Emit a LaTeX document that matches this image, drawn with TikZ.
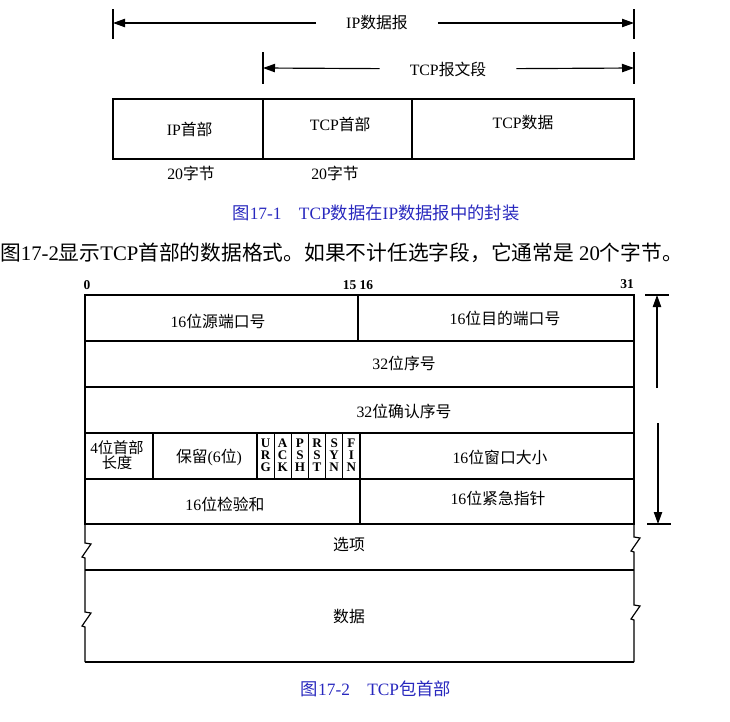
\documentclass[tikz,border=0pt]{standalone}
\usepackage{fontspec}
\setmainfont{Liberation Serif}
\newfontfamily\cjk{Noto Sans CJK SC}
\usepackage{tikz}
\usetikzlibrary{positioning}
\usetikzlibrary{arrows.meta}
\usetikzlibrary{calc}
\newcommand{\zh}[1]{{\cjk #1}}
\definecolor{capblue}{RGB}{40,40,190}
\tikzset{
  frame/.style={line width=1pt},
  dimarrow/.style={line width=1pt,-{Triangle[length=3.6mm,width=2.5mm]}},
  dimlabel/.style={inner xsep=0.9cm,inner ysep=0pt,font=\fontsize{13.5}{15}\selectfont},
  cell/.style={inner sep=0pt,font=\fontsize{13.5}{15}\selectfont},
  bitno/.style={inner sep=0pt,font=\fontsize{11.5}{12}\selectfont\bfseries},
  flag/.style={inner sep=0pt,align=center,font=\fontsize{11.2}{10.2}\selectfont\bfseries},
  caption/.style={inner sep=0pt,text=capblue,font=\fontsize{14.8}{16}\selectfont},
}
\begin{document}
\begin{tikzpicture}[x=0.03cm,y=-0.03cm]
  \useasboundingbox (0,0) rectangle (730,721);
  % IP datagram span
  \coordinate (nIPl) at (113,23);
  \coordinate (nIPr) at (634,23);
  \draw[frame] (113,9) -- (113,39);
  \draw[frame] (634,9) -- (634,39);
  \node[dimlabel] at (377,23) (nIP) {IP\zh{数据报}};
  \draw[dimarrow] (nIP) -- (nIPl);
  \draw[dimarrow] (nIP) -- (nIPr);
  % TCP segment span
  \coordinate (nSGl) at (263,68);
  \coordinate (nSGr) at (634,68);
  \draw[frame] (263,52) -- (263,84);
  \draw[frame] (634,52) -- (634,84);
  \node[dimlabel] at (448,69) (nSG) {TCP\zh{报文段}};
  \draw[dimarrow] (nSG) -- (nSGl);
  \draw[dimarrow] (nSG) -- (nSGr);
  % encapsulation boxes
  \coordinate (nB1) at (113, 99);
  \coordinate (nB2) at (263,159);
  \coordinate (nB3) at (412, 99);
  \coordinate (nB4) at (634,159);
  \draw[frame] (nB1) rectangle (nB4);
  \draw[frame] (263,99) -- (nB2);
  \draw[frame] (nB3) -- (412,159);
  \node[cell] at ($(nB1)!0.5!(nB2)$) [xshift=0.05cm] (nIPhdr) {IP\zh{首部}};
  \node[cell] at ($(nB2)!0.5!(nB3)$) [xshift=0.08cm,yshift=0.15cm] (nTCPhdr) {TCP\zh{首部}};
  \node[cell] at ($(nB3)!0.5!(nB4)$) [yshift=0.18cm] (nTCPdat) {TCP\zh{数据}};
  \node[cell] at (191,173) (nLen1) {20\zh{字节}};
  \node[cell] at (335,173) (nLen2) {20\zh{字节}};
  \node[caption] at (376,213) (nCap1) {\zh{图}17-1\quad TCP\zh{数据在}IP\zh{数据报中的封装}};
  % text line
  \node[inner sep=0pt,anchor=west,font=\fontsize{17.7}{20}\selectfont] at (0,253) (nText)
    {\zh{图}17-2\zh{显示}TCP\zh{首部的数据格式。如果不计任选字段，它通常是} 20\zh{个字节。}};
  % bit numbers
  \node[bitno] at (87,285) (nBit0) {0};
  \node[bitno] at (358,285) (nBit15) {15 16};
  \node[bitno] at (627,284) (nBit31) {31};
  % fixed header, 20 bytes
  \coordinate (nH1) at (85,295);
  \coordinate (nH2) at (634,524);
  \draw[frame] (nH1) rectangle (nH2);
  \draw[frame] (85,341) -- (634,341);
  \draw[frame] (85,387) -- (634,387);
  \draw[frame] (85,433) -- (634,433);
  \draw[frame] (85,479) -- (634,479);
  \draw[frame] (358,295) -- (358,341);
  \draw[frame] (153,433) -- (153,479);
  \draw[frame] (257,433) -- (257,479);
  \draw[frame] (274.2,433) -- (274.2,479);
  \draw[frame] (291.3,433) -- (291.3,479);
  \draw[frame] (308.5,433) -- (308.5,479);
  \draw[frame] (325.7,433) -- (325.7,479);
  \draw[frame] (342.8,433) -- (342.8,479);
  \draw[frame] (360,433) -- (360,524);
  \node[cell] at (218,321) (nSport) {16\zh{位源端口号}};
  \node[cell] at (505,318) (nDport) {16\zh{位目的端口号}};
  \node[cell] at (404,363) (nSeq) {32\zh{位序号}};
  \node[cell] at (404,411) (nAck) {32\zh{位确认序号}};
  \node[cell,align=center,font=\fontsize{13}{13}\selectfont] at (117,455) (nHlen) {4\zh{位首部}\\\zh{长度}};
  \node[cell] at (209,457) (nRsv) {\zh{保留}(6\zh{位})};
  \node[flag] at (265.6,455) (nURG) {U\\R\\G};
  \node[flag] at (282.7,455) (nACK) {A\\C\\K};
  \node[flag] at (299.9,455) (nPSH) {P\\S\\H};
  \node[flag] at (317.1,455) (nRST) {R\\S\\T};
  \node[flag] at (334.2,455) (nSYN) {S\\Y\\N};
  \node[flag] at (351.4,455) (nFIN) {F\\I\\N};
  \node[cell] at (500,457) (nWin) {16\zh{位窗口大小}};
  \node[cell] at (225,504) (nSum) {16\zh{位检验和}};
  \node[cell] at (498,498) (nUrg) {16\zh{位紧急指针}};
  % options and data, with break marks
  \draw[frame] (85,524) -- (85,543) -- (91,544) -- (82,557) -- (85,558)
    -- (85,612) -- (91,613) -- (82,626) -- (85,627) -- (85,662);
  \draw[frame] (634,524) -- (634,537) -- (640,538) -- (631,551) -- (634,552)
    -- (634,605) -- (640,606) -- (631,619) -- (634,620) -- (634,662);
  \draw[frame] (85,570) -- (634,570);
  \draw[frame] (85,662) -- (634,662);
  \node[cell] at (349,545) (nOpt) {\zh{选项}};
  \node[cell] at (349,616) (nData) {\zh{数据}};
  % 20 byte span
  \coordinate (nHtop) at (657,295);
  \coordinate (nHbot) at (658,524);
  \coordinate (nHm1) at (657,388);
  \coordinate (nHm2) at (658,423);
  \draw[frame] (645,295) -- (669,295);
  \draw[frame] (647,524) -- (671,524);
  \draw[dimarrow] (nHm1) -- (nHtop);
  \draw[dimarrow] (nHm2) -- (nHbot);
  \node[caption] at (376,689) (nCap2) {\zh{图}17-2\quad TCP\zh{包首部}};
\end{tikzpicture}
\end{document}
